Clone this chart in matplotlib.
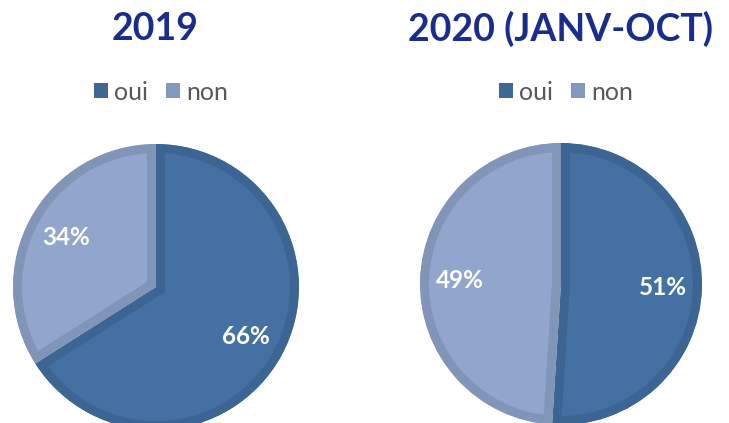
import matplotlib.pyplot as plt
from matplotlib.patches import Patch

# données
categories = ['oui', 'non']
valeurs_2019 = [66, 34]
valeurs_2020 = [51, 49]
titres = ['2019', '2020 (JANV-OCT)']

couleurs = ['#4471A2', '#91A5CD']
bordures = ['#3C6594', '#8095B8']
couleurs_legende = ['#3F6897', '#8497BD']

W, H = 729, 423
fig = plt.figure(figsize=(W / 100, H / 100), dpi=100)
plt.rcParams['font.family'] = ['Lato', 'DejaVu Sans']


def camembert(valeurs, titre, cx, cy, r, cx_titre, cx_legende):
    ax = fig.add_axes([(cx - r) / W, 1 - (cy + r) / H, 2 * r / W, 2 * r / H])
    wedges, textes, pcts = ax.pie(valeurs, colors=couleurs, startangle=90,
                                  counterclock=False, autopct='%1.0f%%',
                                  pctdistance=0.72, radius=1,
                                  textprops=dict(color='white', fontsize=17.5,
                                                 fontweight='bold'))
    # bordure intérieure : trait épais coupé par la part elle-même
    for w, b in zip(wedges, bordures):
        w.set_edgecolor(b)
        w.set_linewidth(13)
        w.set_clip_on(True)
        w.set_clip_path(w)
    ax.set_xlim(-1, 1)
    ax.set_ylim(-1, 1)
    ax.set_aspect('equal')
    ax.axis('off')

    fig.text(cx_titre / W, 1 - 29 / H, titre, ha='center', va='center',
             fontsize=27, fontweight='bold', color='#1B2D8C')

    poignees = [Patch(facecolor=c, edgecolor='none') for c in couleurs_legende]
    fig.legend(poignees, categories, loc='center', ncol=2, frameon=False,
               bbox_to_anchor=(cx_legende / W, 1 - 92 / H),
               fontsize=18, labelcolor='#595959',
               handlelength=0.56, handleheight=0.56, handletextpad=0.25,
               columnspacing=0.7)


camembert(valeurs_2019, titres[0], 156, 287, 143, 155, 161)
camembert(valeurs_2020, titres[1], 561, 284, 141, 560, 566)

fig.savefig('out.png', dpi=100)
